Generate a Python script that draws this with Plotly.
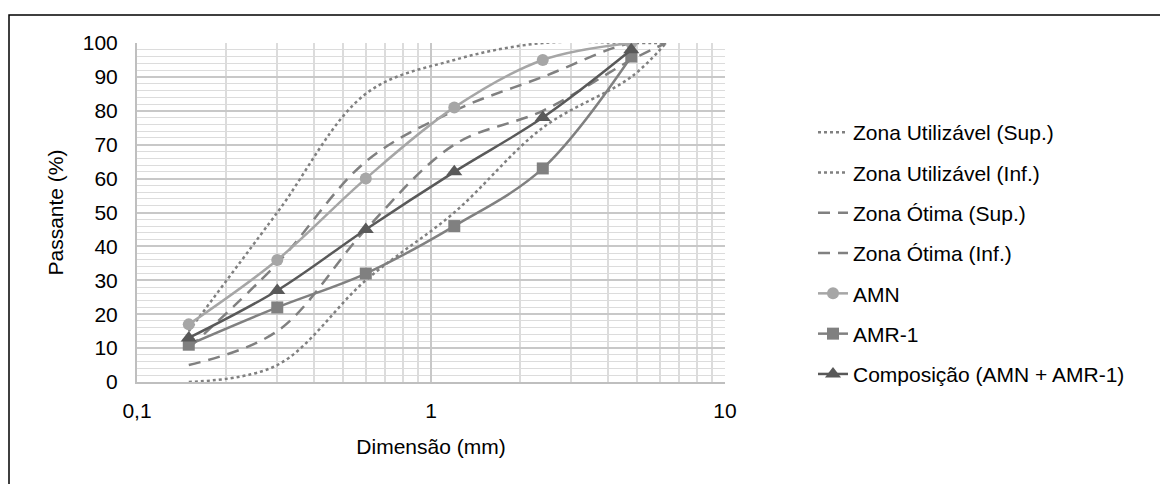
import plotly.graph_objects as go

# Sieve sizes (mm)
zone_sizes = [0.15, 0.3, 0.6, 1.2, 2.4, 4.8, 6.3]
sample_sizes = [0.15, 0.3, 0.6, 1.2, 2.4, 4.8]

# Zone limits (% passing)
util_sup = [15, 50, 85, 95, 100, 100, 100]
util_inf = [0, 5, 30, 50, 75, 90, 100]
otima_sup = [10, 35, 65, 80, 90, 100, 100]
otima_inf = [5, 15, 45, 70, 80, 95, 100]

# Samples (% passing)
amn = [17, 36, 60, 81, 95, 100]
amr1 = [11, 22, 32, 46, 63, 96]
comp = [13, 27, 45, 62, 78, 98]

names = ["Zona Utilizável (Sup.)", "Zona Utilizável (Inf.)", "Zona Ótima (Sup.)",
         "Zona Ótima (Inf.)", "AMN", "AMR-1", "Composição (AMN + AMR-1)"]

x_tickvals = [0.1, 1, 10]
x_ticktext = ["0,1", "1", "10"]

FONT = "Liberation Sans, Arial, sans-serif"
FS = 21
OFF = 8  # page body margin
W, H = 1168 - OFF, 484 - OFF
L, R, T, B = 137 - OFF, 725 - OFF, 43 - OFF, 382 - OFF  # plot area in figure px

fig = go.Figure()

zone_specs = [
    (util_sup, "dot", names[0]),
    (util_inf, "dot", names[1]),
    (otima_sup, "12px,8px", names[2]),
    (otima_inf, "12px,8px", names[3]),
]
for i, (vals, dash, nm) in enumerate(zone_specs):
    fig.add_trace(go.Scatter(
        x=zone_sizes, y=vals, name=nm, mode="lines",
        line=dict(color="#808080", width=2.5, dash=dash, shape="spline", smoothing=1),
        legendgroup=f"g{i}",
    ))

sample_specs = [
    (amn, "#a6a6a6", "circle", 12, names[4]),
    (amr1, "#808080", "square", 12, names[5]),
    (comp, "#595959", "triangle-up", 14, names[6]),
]
for j, (vals, col, sym, sz, nm) in enumerate(sample_specs):
    fig.add_trace(go.Scatter(
        x=sample_sizes, y=vals, name=nm, mode="lines+markers",
        line=dict(color=col, width=2.5, shape="spline", smoothing=1),
        marker=dict(color=col, symbol=sym, size=sz, line=dict(width=0)),
        legendgroup=f"g{4 + j}",
    ))

def px_x(p):
    return (p - OFF - L) / (R - L)

def px_y(p):
    return (B - (p - OFF)) / (B - T)

fig.update_layout(
    width=W, height=H,
    margin=dict(l=L, r=W - R, t=T, b=H - B, autoexpand=False),
    paper_bgcolor="white", plot_bgcolor="white",
    font=dict(family=FONT, size=FS, color="#000000"),
    showlegend=True,
    legend=dict(
        x=px_x(813), y=px_y(112), xanchor="left", yanchor="top",
        font=dict(family=FONT, size=FS, color="#000000"),
        traceorder="grouped", tracegroupgap=10,
        bgcolor="rgba(0,0,0,0)",
    ),
    shapes=[dict(
        type="rect", xref="paper", yref="paper",
        x0=px_x(9), x1=px_x(1200), y0=px_y(520), y1=px_y(15),
        line=dict(color="#000000", width=1.5), fillcolor="rgba(0,0,0,0)", layer="below",
    )],
)

fig.update_xaxes(
    type="log", range=[-1, 1],
    tickvals=x_tickvals, ticktext=x_ticktext,
    showgrid=True, gridcolor="#c8c8c8", gridwidth=1.5,
    minor=dict(showgrid=True, gridcolor="#dcdcdc", gridwidth=1.5, dtick="D1"),
    showline=True, linecolor="#bfbfbf", linewidth=2,
    zeroline=False, ticks="", ticklabelstandoff=9,
    title=dict(text="Dimensão (mm)", standoff=18, font=dict(size=FS)),
)
fig.update_yaxes(
    range=[0, 100], tickvals=list(range(0, 101, 10)),
    showgrid=True, gridcolor="#c8c8c8", gridwidth=1.5,
    minor=dict(showgrid=True, gridcolor="#dcdcdc", gridwidth=1, dtick=2),
    showline=True, linecolor="#bfbfbf", linewidth=2,
    zeroline=False, ticks="", ticklabelstandoff=13,
    title=dict(text="Passante (%)", standoff=13, font=dict(size=FS)),
)

fig.write_html("out.html")
